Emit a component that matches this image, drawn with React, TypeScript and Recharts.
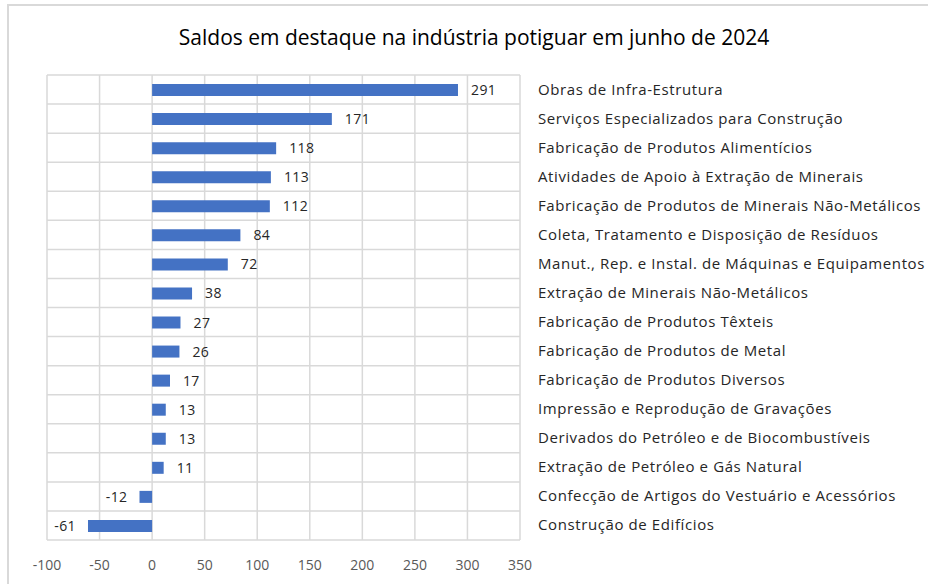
import { BarChart, Bar, XAxis, YAxis, CartesianGrid, LabelList, Cell } from 'recharts';

const categories = [
  'Obras de Infra-Estrutura',
  'Serviços Especializados para Construção',
  'Fabricação de Produtos Alimentícios',
  'Atividades de Apoio à Extração de Minerais',
  'Fabricação de Produtos de Minerais Não-Metálicos',
  'Coleta, Tratamento e Disposição de Resíduos',
  'Manut., Rep. e Instal. de Máquinas e Equipamentos',
  'Extração de Minerais Não-Metálicos',
  'Fabricação de Produtos Têxteis',
  'Fabricação de Produtos de Metal',
  'Fabricação de Produtos Diversos',
  'Impressão e Reprodução de Gravações',
  'Derivados do Petróleo e de Biocombustíveis',
  'Extração de Petróleo e Gás Natural',
  'Confecção de Artigos do Vestuário e Acessórios',
  'Construção de Edifícios',
];

const saldos = [291, 171, 118, 113, 112, 84, 72, 38, 27, 26, 17, 13, 13, 11, -12, -61];

const xTicks = [-100, -50, 0, 50, 100, 150, 200, 250, 300, 350];

const data = categories.map((name, i) => ({ name, value: saldos[i] }));

const BAR_COLOR = '#4472C4';
const GRID = '#D9D9D9';
const FONT = '"Open Sans", sans-serif';

function CategoryTick({ x, y, payload }: any) {
  return (
    <text
      x={x + 10}
      y={y}
      dy={5}
      textAnchor="start"
      fontSize={15}
      letterSpacing={0.6}
      fill="#262626"
      fontFamily={FONT}
    >
      {payload.value}
    </text>
  );
}

function ValueLabel({ x, y, width, height, value }: any) {
  const neg = value < 0;
  const endX = x + width;
  return (
    <text
      x={neg ? endX - 12 : endX + 13}
      y={y + height / 2}
      dy={5}
      textAnchor={neg ? 'end' : 'start'}
      fontSize={14}
      letterSpacing={0.4}
      fill="#262626"
      fontFamily={FONT}
    >
      {value}
    </text>
  );
}

export default function App() {
  return (
    <div style={{ position: 'absolute', left: 0, top: 0, width: 928, height: 584, background: '#fff', overflow: 'hidden' }}>
      <div style={{ position: 'absolute', left: 7, top: 4, right: -5, bottom: -5, borderTop: '2px solid #D9D9D9', borderLeft: '2px solid #D9D9D9' }} />
      <div
        style={{
          position: 'absolute',
          left: 0,
          width: 948,
          top: 23,
          textAlign: 'center',
          fontFamily: FONT,
          fontSize: 21,
          color: '#000',
        }}
      >
        Saldos em destaque na indústria potiguar em junho de 2024
      </div>
      <BarChart
        width={928}
        height={584}
        data={data}
        layout="vertical"
        margin={{ top: 75, right: 0, bottom: 0, left: 47 }}
        style={{ position: 'absolute', left: 0, top: 0 }}
      >
        <CartesianGrid
          stroke={GRID}
          strokeWidth={1.5}
          horizontalCoordinatesGenerator={({ offset }: any) =>
            Array.from({ length: categories.length + 1 }, (_, i) => offset.top + (i * offset.height) / categories.length)
          }
        />
        <XAxis
          type="number"
          domain={[-100, 350]}
          ticks={xTicks}
          height={44}
          axisLine={false}
          tickLine={false}
          tick={{ fontSize: 14, fill: '#595959', fontFamily: FONT }}
          tickMargin={14}
        />
        <YAxis
          type="category"
          dataKey="name"
          orientation="right"
          width={408}
          axisLine={false}
          tickLine={false}
          tick={<CategoryTick />}
        />
        <Bar dataKey="value" barSize={12} fill={BAR_COLOR} isAnimationActive={false}>
          {data.map((d, i) => (
            <Cell key={i} fill={BAR_COLOR} />
          ))}
          <LabelList dataKey="value" content={<ValueLabel />} />
        </Bar>
      </BarChart>
    </div>
  );
}
